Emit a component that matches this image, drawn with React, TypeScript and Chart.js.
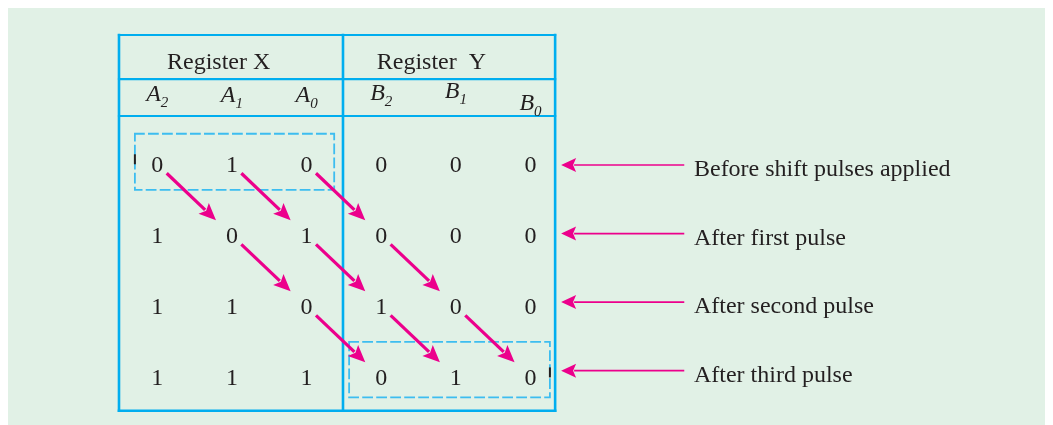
import React, { useEffect, useRef } from "react";
import Chart from "chart.js/auto";

// ---- data ----
const registerNames = ["Register X", "Register  Y"];
const bitLetters = ["A", "A", "A", "B", "B", "B"];
const bitSubscripts = ["2", "1", "0", "2", "1", "0"];
const stepLabels = [
  "Before shift pulses applied",
  "After first pulse",
  "After second pulse",
  "After third pulse",
];
const stepBits = [
  [0, 1, 0, 0, 0, 0],
  [1, 0, 1, 0, 0, 0],
  [1, 1, 0, 1, 0, 0],
  [1, 1, 1, 0, 1, 0],
];
const shiftedBitCount = 3; // bits of register X travelling right at each pulse
const highlightedRows = [
  { row: 0, fromCol: 0, toCol: 2 },
  { row: 3, fromCol: 3, toCol: 5 },
];

// ---- layout / style ----
const W = 1045;
const H = 417;
const BG = "#E1F1E6";
const BLUE = "#00AEEF";
const DASH_BLUE = "#3DBDF0";
const MAGENTA = "#EC008C";
const INK = "#231F20";
const SERIF = '"Liberation Serif", "Times New Roman", serif';

const TABLE = { left: -0.513, mid: 2.488, right: 5.33, top: -1.82, h1: -1.2, h2: -0.68, bottom: 3.47 };
const REG_LABEL_X = [0.13, 2.94];
const REG_LABEL_Y = -1.34;
const HEADER_Y = -0.89;
const HEADER_SHIFT = [0, 0.5, 0.5, -1, -3, 9];
const BOX_PAD = [
  { l: 0.3, r: 0.37, t: 0.43, b: 0.36 },
  { l: 0.43, r: 0.26, t: 0.5, b: 0.28 },
];
const LABEL_ROW_STEP = 0.965;
const LABEL_ROW_OFFSET = 0.01;
const ARROW_TIP_X = 5.41;
const ARROW_TAIL_X = 7.06;
const LABEL_X = 7.19;

function arrow(ctx: CanvasRenderingContext2D, x0: number, y0: number, x1: number, y1: number, lw: number, headLen: number, headHalf: number, color: string) {
  const dx = x1 - x0, dy = y1 - y0;
  const len = Math.hypot(dx, dy);
  const ux = dx / len, uy = dy / len;
  const px = -uy, py = ux;
  const bx = x1 - ux * headLen, by = y1 - uy * headLen;
  ctx.save();
  ctx.strokeStyle = color;
  ctx.fillStyle = color;
  ctx.lineWidth = lw;
  ctx.lineCap = "butt";
  ctx.beginPath();
  ctx.moveTo(x0, y0);
  ctx.lineTo(bx + ux * 2, by + uy * 2);
  ctx.stroke();
  ctx.beginPath();
  ctx.moveTo(x1, y1);
  ctx.lineTo(bx + px * headHalf, by + py * headHalf);
  ctx.lineTo(bx + ux * headLen * 0.2, by + uy * headLen * 0.2);
  ctx.lineTo(bx - px * headHalf, by - py * headHalf);
  ctx.closePath();
  ctx.fill();
  ctx.restore();
}

const diagramPlugin = {
  id: "shiftDiagram",
  beforeDraw(chart: any) {
    const ctx = chart.ctx as CanvasRenderingContext2D;
    ctx.save();
    ctx.fillStyle = BG;
    ctx.fillRect(0, 0, chart.width, chart.height);
    ctx.restore();
  },
  afterDatasetsDraw(chart: any) {
    const ctx = chart.ctx as CanvasRenderingContext2D;
    const xs = chart.scales.x, ys = chart.scales.y;
    const X = (v: number) => xs.getPixelForValue(v);
    const Y = (v: number) => ys.getPixelForValue(v);
    ctx.save();

    // table lines
    ctx.strokeStyle = BLUE;
    ctx.lineWidth = 2.5;
    ctx.lineCap = "square";
    const hline = (v: number, w = 2.2) => {
      ctx.lineWidth = w;
      ctx.beginPath();
      ctx.moveTo(X(TABLE.left), Y(v));
      ctx.lineTo(X(TABLE.right), Y(v));
      ctx.stroke();
    };
    const vline = (v: number) => {
      ctx.lineWidth = 2.6;
      ctx.beginPath();
      ctx.moveTo(X(v), Y(TABLE.top));
      ctx.lineTo(X(v), Y(TABLE.bottom));
      ctx.stroke();
    };
    hline(TABLE.top);
    hline(TABLE.h1);
    hline(TABLE.h2);
    hline(TABLE.bottom, 2.6);
    vline(TABLE.left);
    vline(TABLE.mid);
    vline(TABLE.right);

    // dashed highlight boxes
    highlightedRows.forEach((b, i) => {
      const p = BOX_PAD[i];
      const x0 = X(b.fromCol - p.l), x1 = X(b.toCol + p.r);
      const y0 = Y(b.row - p.t), y1 = Y(b.row + p.b);
      ctx.save();
      ctx.strokeStyle = DASH_BLUE;
      ctx.lineWidth = 1.8;
      ctx.setLineDash([9, 5]);
      ctx.strokeRect(x0, y0, x1 - x0, y1 - y0);
      ctx.setLineDash([]);
      ctx.strokeStyle = INK;
      ctx.lineWidth = 2;
      const ex = i === 0 ? x0 : x1;
      const ry = Y(b.row);
      ctx.beginPath();
      ctx.moveTo(ex, ry - 9);
      ctx.lineTo(ex, ry - 1);
      ctx.stroke();
      ctx.restore();
    });

    // text
    ctx.fillStyle = INK;
    ctx.textBaseline = "alphabetic";
    ctx.font = `24px ${SERIF}`;
    ctx.textAlign = "left";
    registerNames.forEach((name, i) => {
      ctx.fillText(name, X(REG_LABEL_X[i]), Y(REG_LABEL_Y));
    });

    bitLetters.forEach((letter, c) => {
      const sub = bitSubscripts[c];
      ctx.font = `italic 24px ${SERIF}`;
      const wm = ctx.measureText(letter).width;
      ctx.font = `italic 15px ${SERIF}`;
      const ws = ctx.measureText(sub).width;
      const start = X(c) - (wm + ws) / 2;
      const base = Y(HEADER_Y) + HEADER_SHIFT[c];
      ctx.textAlign = "left";
      ctx.font = `italic 24px ${SERIF}`;
      ctx.fillText(letter, start, base);
      ctx.font = `italic 15px ${SERIF}`;
      ctx.fillText(sub, start + wm, base + 6);
    });

    ctx.font = `24px ${SERIF}`;
    ctx.textAlign = "center";
    stepBits.forEach((row, r) => {
      row.forEach((bit, c) => {
        ctx.fillText(String(bit), X(c), Y(r) + 8);
      });
    });

    // shift arrows
    for (let s = 0; s < stepBits.length - 1; s++) {
      for (let k = 0; k < shiftedBitCount; k++) {
        const c = s + k;
        const x0 = X(c), y0 = Y(s), x1 = X(c + 1), y1 = Y(s + 1);
        const len = Math.hypot(x1 - x0, y1 - y0);
        const ux = (x1 - x0) / len, uy = (y1 - y0) / len;
        arrow(ctx, x0 + ux * 13, y0 + uy * 13, x1 - ux * 22, y1 - uy * 22, 3.2, 17, 7.5, MAGENTA);
      }
    }

    // step label arrows and text
    stepLabels.forEach((label, r) => {
      const yv = Y(r * LABEL_ROW_STEP + LABEL_ROW_OFFSET);
      arrow(ctx, X(ARROW_TAIL_X), yv, X(ARROW_TIP_X), yv, 1.7, 15, 7, MAGENTA);
      ctx.fillStyle = INK;
      ctx.font = `24px ${SERIF}`;
      ctx.textAlign = "left";
      ctx.fillText(label, X(LABEL_X), yv + 11);
    });

    ctx.restore();
  },
};

export default function App() {
  const ref = useRef<HTMLCanvasElement | null>(null);
  useEffect(() => {
    if (!ref.current) return;
    const points = stepBits.flatMap((row, r) => row.map((bit, c) => ({ x: c, y: r, v: bit })));
    const chart = new Chart(ref.current, {
      type: "scatter",
      data: { datasets: [{ data: points, pointRadius: 0, pointHoverRadius: 0 }] },
      options: {
        animation: false,
        responsive: false,
        devicePixelRatio: 1,
        layout: { padding: 0 },
        events: [],
        plugins: { legend: { display: false }, tooltip: { enabled: false } },
        scales: {
          x: { type: "linear", min: -2, max: 12, display: false },
          y: { type: "linear", min: -2.2, max: 3.67, reverse: true, display: false },
        },
      },
      plugins: [diagramPlugin],
    });
    return () => chart.destroy();
  }, []);
  return <canvas ref={ref} width={W} height={H} style={{ display: "block", width: W, height: H }} />;
}
